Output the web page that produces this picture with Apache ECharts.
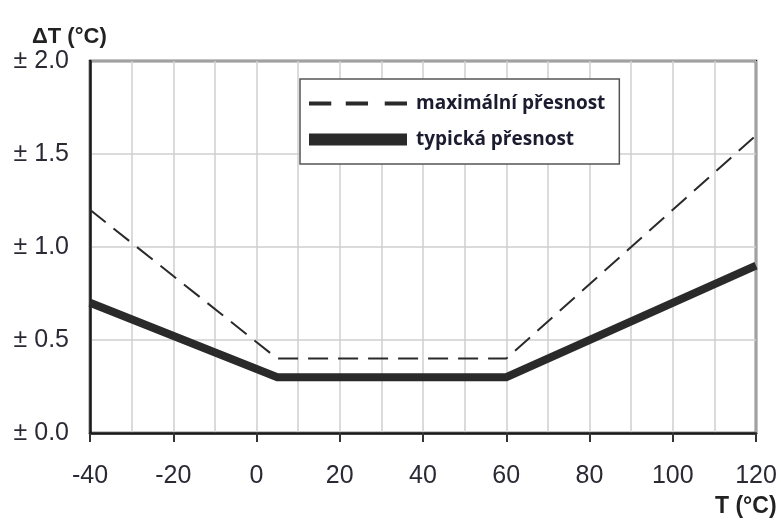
<!DOCTYPE html>
<html><head><meta charset="utf-8">
<script src="https://cdn.jsdelivr.net/npm/echarts@6/dist/echarts.min.js"></script>
<style>html,body{margin:0;padding:0;background:#fff}#c{width:781px;height:528px}</style>
</head><body><div id="c"></div>
<script>
const xMax = [-40, 5, 60, 120];
const yMax = [1.2, 0.4, 0.4, 1.6];
const xTyp = [-40, 5, 60, 120];
const yTyp = [0.7, 0.3, 0.3, 0.9];
const seriesNames = ['maximální přesnost', 'typická přesnost'];
const yTickLabels = ['± 0.0', '± 0.5', '± 1.0', '± 1.5', '± 2.0'];

const chart = echarts.init(document.getElementById('c'), null, {renderer: 'canvas'});
const narrow = '"Liberation Sans Narrow", "Arial Narrow", "Liberation Sans", sans-serif';
const lblFont = {fontFamily: narrow, fontSize: 25, color: '#2a2a35'};
chart.setOption({
  animation: false,
  backgroundColor: '#fff',
  grid: {left: 90, right: 25, top: 61, bottom: 95, show: true, borderColor: '#1a1a1a', borderWidth: 2.5, backgroundColor: 'transparent'},
  title: [
    {text: 'ΔT (°C)', left: 27, top: 21, textStyle: {fontFamily: narrow, fontSize: 22, fontWeight: 'bold', color: '#222'}},
    {text: 'T (°C)', left: 710, top: 490, textStyle: {fontFamily: narrow, fontSize: 23, fontWeight: 'bold', color: '#222'}}
  ],
  legend: {
    orient: 'vertical', left: 300, top: 79,
    padding: [15, 14, 15, 9], itemGap: 17,
    itemWidth: 98, itemHeight: 12,
    backgroundColor: '#fff', borderColor: '#555', borderWidth: 1.5,
    textStyle: {fontFamily: 'Open Sans', fontWeight: 'bold', fontSize: 19, color: '#1c1c30', padding: [0, 0, 0, 4]},
    data: [
      {name: seriesNames[0], icon: 'path://M0,0h20v3.4h-20z M33,0h20v3.4h-20z M68,0h20v3.4h-20z'},
      {name: seriesNames[1], icon: 'rect'}
    ]
  },
  xAxis: {
    type: 'value', min: -40, max: 120, interval: 20,
    axisLine: {show: true, onZero: false, lineStyle: {color: '#1a1a1a', width: 2.5}},
    axisTick: {show: true, length: 9, lineStyle: {color: '#333', width: 2}},
    axisLabel: Object.assign({margin: 31}, lblFont),
    splitLine: {show: true, lineStyle: {color: '#cfcfcf', width: 1.5}},
    minorTick: {show: false, splitNumber: 2},
    minorSplitLine: {show: true, lineStyle: {color: '#cfcfcf', width: 1.5}}
  },
  yAxis: {
    type: 'value', min: 0, max: 2, interval: 0.5,
    axisLine: {show: true, onZero: false, lineStyle: {color: '#1a1a1a', width: 2.5}},
    axisTick: {show: false},
    axisLabel: Object.assign({margin: 21, formatter: (v, i) => yTickLabels[i]}, lblFont),
    splitLine: {show: true, lineStyle: {color: '#cfcfcf', width: 1.5}}
  },
  series: [
    {name: seriesNames[0], type: 'line', symbol: 'none', z: 3,
     data: xMax.map((x, i) => [x, yMax[i]]),
     lineStyle: {color: '#2a2a2a', width: 2, type: [20, 10]},
     itemStyle: {color: '#2a2a2a'}},
    {name: seriesNames[1], type: 'line', symbol: 'none', z: 4,
     data: xTyp.map((x, i) => [x, yTyp[i]]),
     lineStyle: {color: '#2a2a2a', width: 8, join: 'miter'},
     itemStyle: {color: '#2a2a2a'}}
  ]
});
</script></body></html>
